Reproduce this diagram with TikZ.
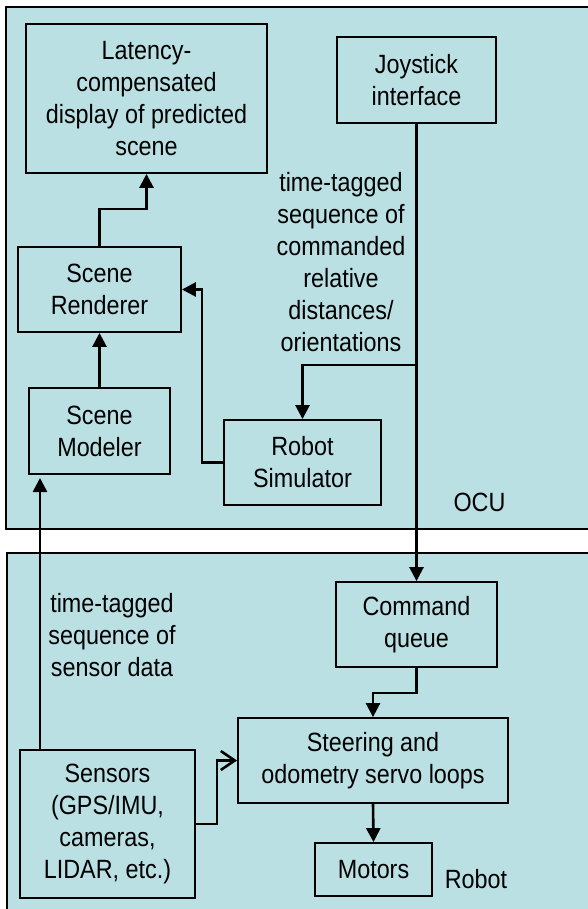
\documentclass[tikz,border=0pt]{standalone}
\usepackage{fontspec}
\setmainfont[FakeStretch=0.885]{Liberation Sans}
\usetikzlibrary{arrows.meta}
\definecolor{bg}{RGB}{186,224,228}
\begin{document}
\begin{tikzpicture}[x=1pt,y=-1pt,
  every node/.style={font=\fontsize{26.4}{32}\selectfont},
  blk/.style={draw=black,line width=1.8pt,inner sep=0pt,align=center},
  frm/.style={draw=black,line width=2.4pt,fill=bg},
  arr/.style={line width=2.6pt,-{Triangle[length=14pt,width=14pt]}},
  oarr/.style={line width=2.6pt,-{Straight Barb[length=14pt,width=19pt,line width=2.6pt]}},
  lbl/.style={align=center,inner sep=0pt}]
\useasboundingbox (0,0) rectangle (588,909);
\clip (0,0) rectangle (588,909);
\fill[white] (0,0) rectangle (588,909);
\draw[frm] (6,7) rectangle (620,529);
\draw[frm] (7,553) rectangle (620,930);

\node[blk,minimum width=241pt,minimum height=149pt] (lat) at (146.5,98.5) {Latency-\\compensated\\display of predicted\\scene};
\node[blk,minimum width=159pt,minimum height=86pt] (joy) at (416.5,80) {Joystick\\interface};
\node[blk,minimum width=163pt,minimum height=85pt] (ren) at (99.5,289.5) {Scene\\Renderer};
\node[blk,minimum width=141pt,minimum height=86pt] (mod) at (99.5,431) {Scene\\Modeler};
\node[blk,minimum width=157pt,minimum height=85pt] (sim) at (302.5,462.5) {Robot\\Simulator};
\node[blk,minimum width=161pt,minimum height=85pt] (cmd) at (416.5,624.5) {Command\\queue};
\node[blk,minimum width=270pt,minimum height=85pt] (ste) at (373,760.5) {Steering and\\odometry servo loops};
\node[blk,minimum width=175pt,minimum height=148pt] (sen) at (107.5,824) {Sensors\\(GPS/IMU,\\cameras,\\LIDAR, etc.)};
\node[blk,minimum width=117pt,minimum height=53pt] (mot) at (373.5,869.5) {Motors};

\node[lbl] (ocu) at (479.5,502) {OCU};
\node[lbl] (rob) at (476,879) {Robot};
\node[lbl] (t1) at (341,262) {time-tagged\\sequence of\\commanded\\relative\\distances/\\orientations};
\node[lbl] (t2) at (112,635) {time-tagged\\sequence of\\sensor data};

\coordinate (j1) at (146.5,209);
\coordinate (k1) at (202,289.5);
\coordinate (b1) at (416.5,365);
\coordinate (s1) at (40,750);
\coordinate (s2) at (40,478);
\coordinate (c1) at (373,693);
\coordinate (d1) at (217,760.5);

\draw[arr] (ren.north) |- (j1) -- (lat.south);
\draw[arr] (mod.north) -- (ren.south);
\draw[arr] (sim.west) -| (k1) -- (ren.east);
\draw[arr] (joy.south) -- (cmd.north);
\draw[arr] (b1) -| (sim.north);
\draw[arr] (s1) -- (s2);
\draw[arr] (cmd.south) |- (c1) -- (ste.north);
\draw[oarr] (sen.east) -| (d1) -- (ste.west);
\draw[arr] (ste.south) -- (mot.north);
\end{tikzpicture}
\end{document}
